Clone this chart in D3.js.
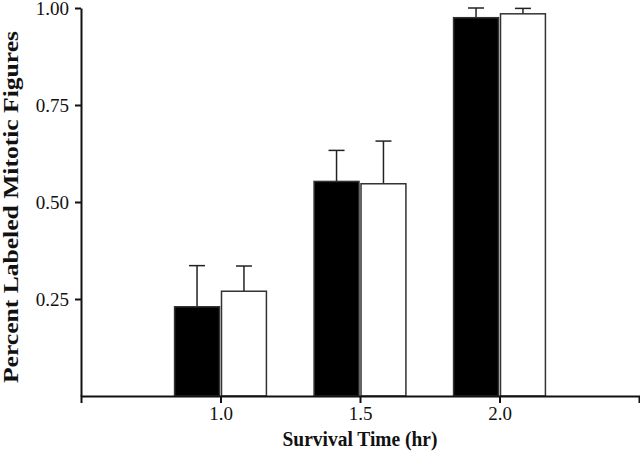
<!DOCTYPE html>
<html>
<head>
<meta charset="utf-8">
<script src="https://cdn.jsdelivr.net/npm/d3@7"></script>
<style>
  html, body { margin: 0; padding: 0; background: #fff; }
  svg { display: block; }
  .tick text { font-family: "Liberation Serif", "Times New Roman", serif; font-size: 19px; fill: #111; }
</style>
</head>
<body>
<svg id="chart" width="640" height="456"></svg>
<script>
// ---- data ----
const times = [1.0, 1.5, 2.0];
const seriesBlack = [0.23, 0.553, 0.975];
const errBlack = [0.106, 0.08, 0.025];
const seriesWhite = [0.27, 0.547, 0.985];
const errWhite = [0.065, 0.11, 0.014];
const yTicks = [0.25, 0.50, 0.75, 1.00];
const xTicks = [1.0, 1.5, 2.0];

const svg = d3.select("#chart");
const x = d3.scaleLinear().domain([0.5, 2.5]).range([81, 639]);
const y = d3.scaleLinear().domain([0, 1]).range([396, 8]);

const step = x(1.5) - x(1.0);
const barW = step * 0.322;
const gap = 1;

const groups = [
  { vals: seriesBlack, errs: errBlack, fill: "#000", side: -1 },
  { vals: seriesWhite, errs: errWhite, fill: "#fff", side: 1 }
];

groups.forEach(g => {
  const data = times.map((t, i) => ({ t, v: g.vals[i], e: g.errs[i] }));
  const bx = d => g.side < 0 ? x(d.t) - gap - barW : x(d.t) + gap;
  svg.append("g").selectAll("line").data(data).join("line")
    .attr("x1", d => bx(d) + barW / 2).attr("x2", d => bx(d) + barW / 2)
    .attr("y1", d => y(d.v)).attr("y2", d => y(d.v + d.e))
    .attr("stroke", "#222").attr("stroke-width", 1.5);
  svg.append("g").selectAll("line").data(data).join("line")
    .attr("x1", d => bx(d) + barW / 2 - 8).attr("x2", d => bx(d) + barW / 2 + 8)
    .attr("y1", d => y(d.v + d.e)).attr("y2", d => y(d.v + d.e))
    .attr("stroke", "#222").attr("stroke-width", 1.5);
  svg.append("g").selectAll("rect").data(data).join("rect")
    .attr("x", bx)
    .attr("y", d => y(d.v))
    .attr("width", barW)
    .attr("height", d => y(0) - y(d.v))
    .attr("fill", g.fill)
    .attr("stroke", "#333").attr("stroke-width", 1.5);
});

// axes
const xAxis = d3.axisBottom(x).tickValues(xTicks).tickFormat(d3.format(".1f"))
  .tickSizeInner(7).tickSizeOuter(7).tickPadding(4);
const gx = svg.append("g").attr("transform", `translate(0,${y(0)})`).call(xAxis);
gx.selectAll("path, line").attr("stroke", "#111").attr("stroke-width", 2);

const yAxis = d3.axisLeft(y).tickValues(yTicks).tickFormat(d3.format(".2f"))
  .tickSizeInner(6).tickSizeOuter(0).tickPadding(6);
const gy = svg.append("g").attr("transform", `translate(${x(0.5)},0)`).call(yAxis);
gy.selectAll("path, line").attr("stroke", "#111").attr("stroke-width", 2);
gy.selectAll(".tick text").attr("dy", "0.34em");

// axis titles
svg.append("text")
  .attr("x", 360).attr("y", 446)
  .attr("text-anchor", "middle")
  .attr("font-family", "'Liberation Serif', 'Times New Roman', serif")
  .attr("font-weight", "bold").attr("font-size", 20)
  .attr("fill", "#111")
  .attr("textLength", 155).attr("lengthAdjust", "spacingAndGlyphs")
  .text("Survival Time (hr)");

svg.append("text")
  .attr("transform", `translate(18,${(y(0) + y(1)) / 2 + 5}) rotate(-90)`)
  .attr("text-anchor", "middle")
  .attr("font-family", "'Liberation Serif', 'Times New Roman', serif")
  .attr("font-weight", "bold").attr("font-size", 21)
  .attr("fill", "#111")
  .attr("textLength", 352).attr("lengthAdjust", "spacingAndGlyphs")
  .text("Percent Labeled Mitotic Figures");
</script>
</body>
</html>
